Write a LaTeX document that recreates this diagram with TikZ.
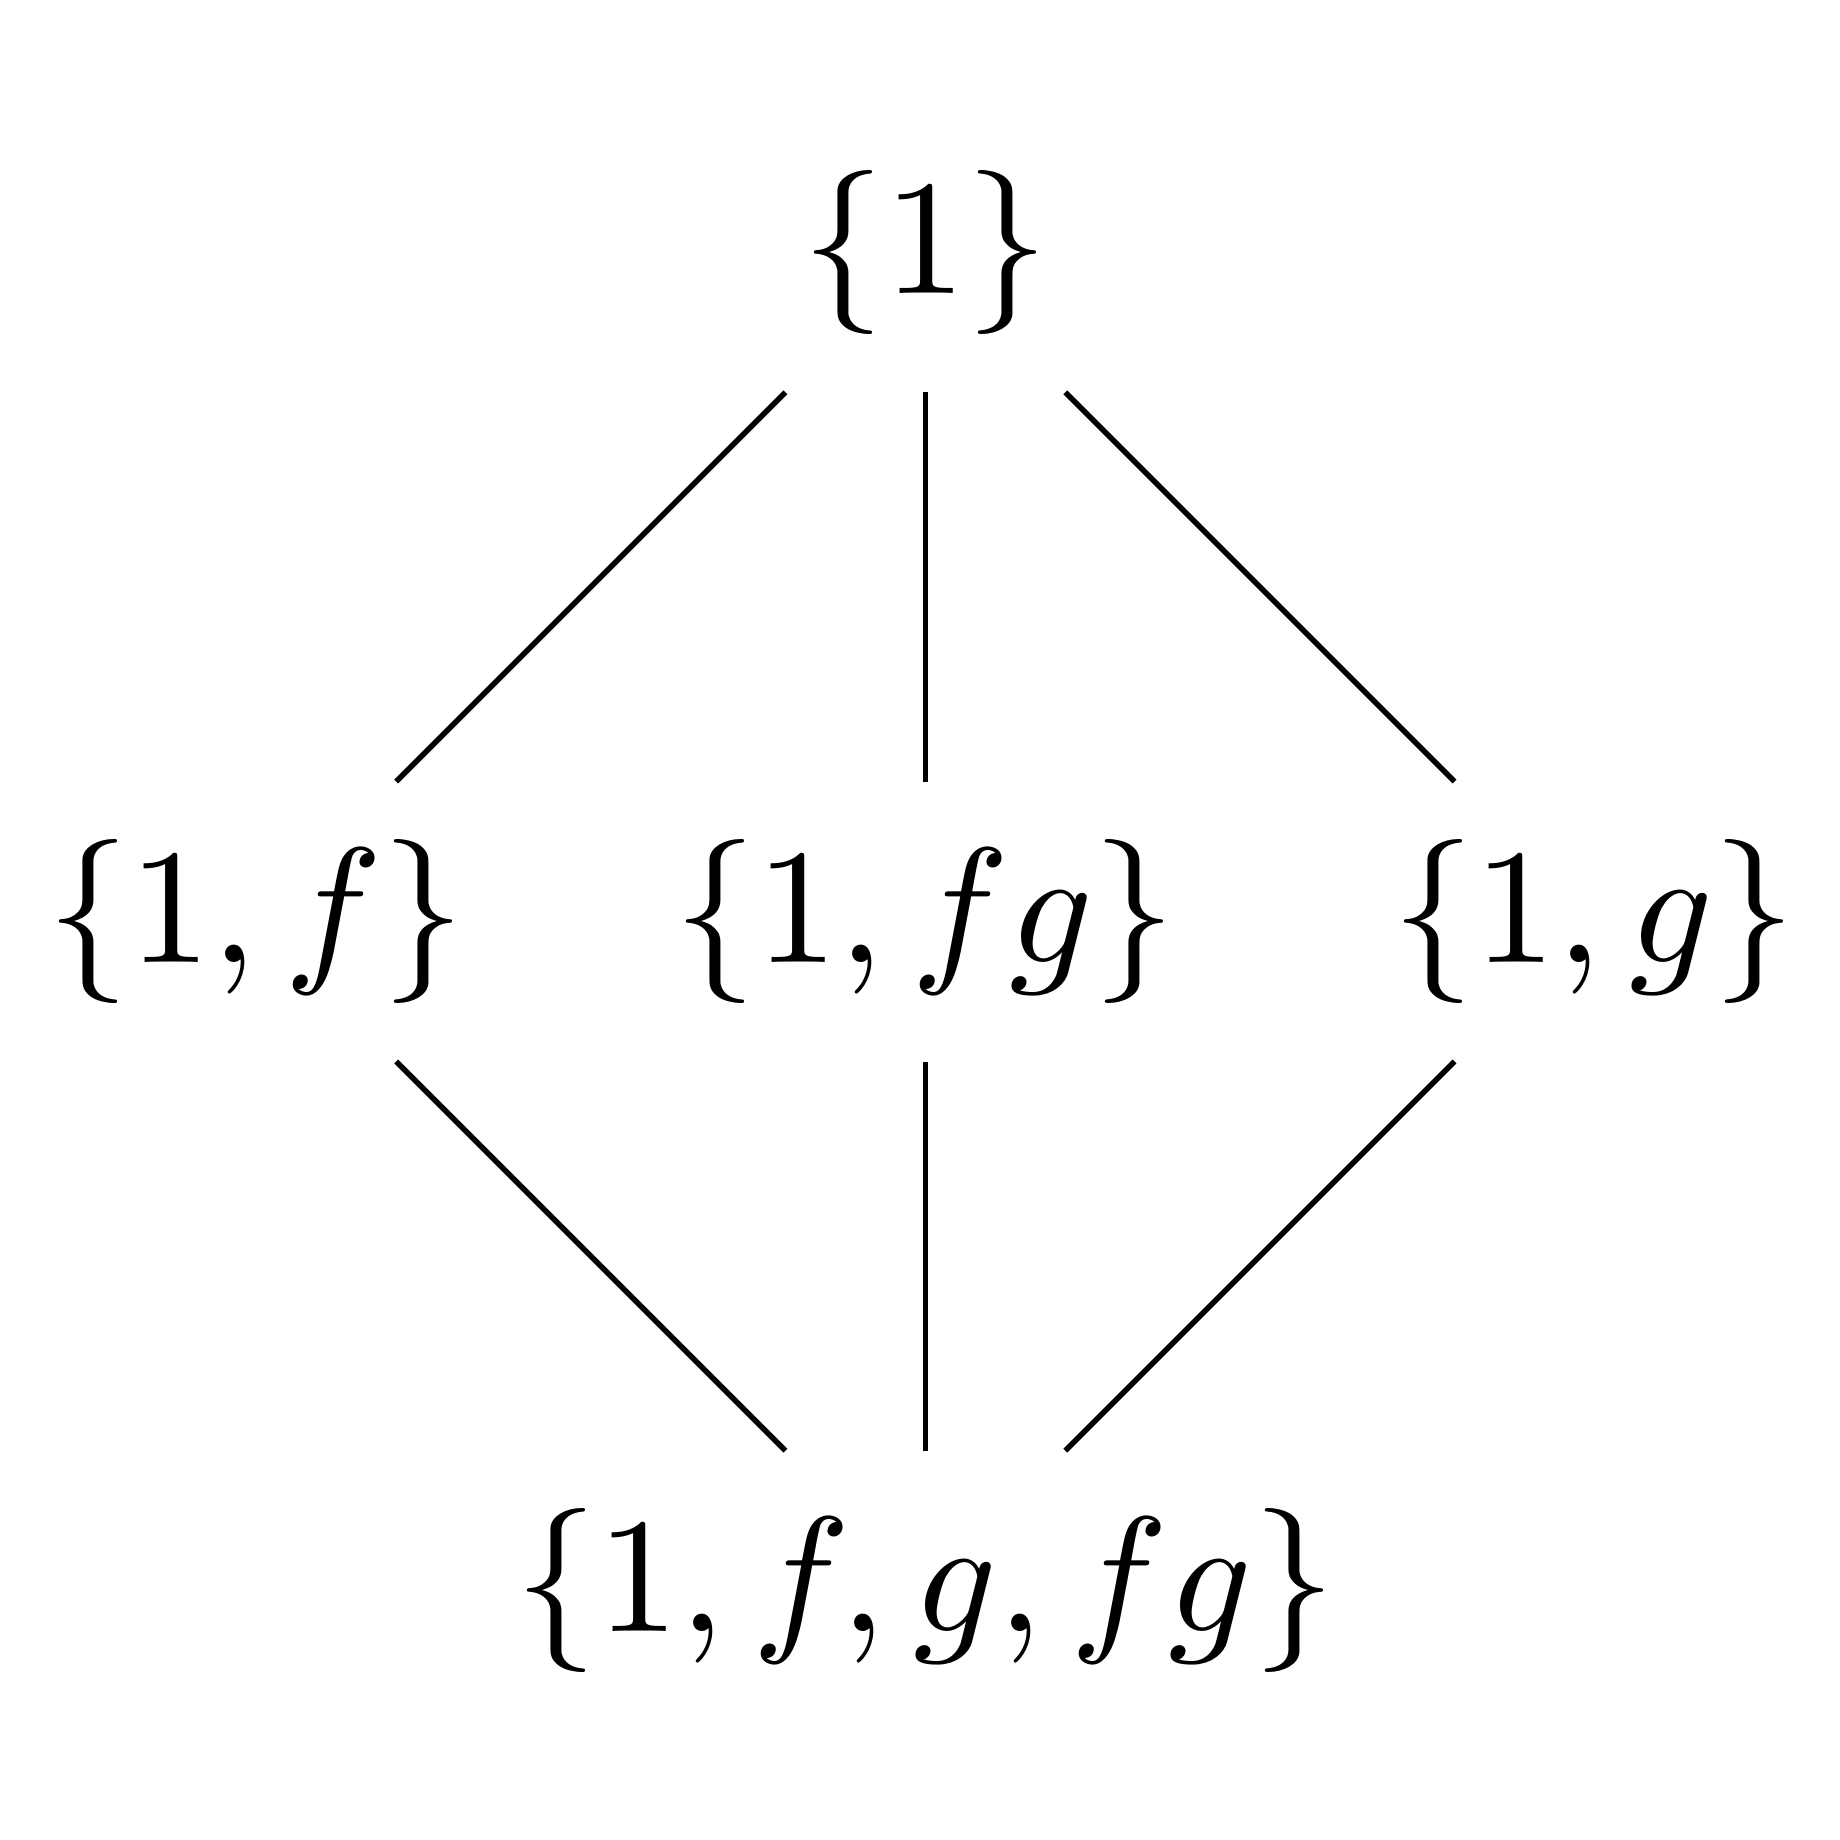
\documentclass[10pt,tikz,border=0pt]{standalone}
\usepackage{graphicx}
\begin{document}
\begin{tikzpicture}[
  every node/.style={inner sep=0pt},
  settext/.style={execute at begin node={\scalebox{1.2}\bgroup$}, execute at end node={$\egroup}},
  link/.style={line width=0.4pt},
  diag/.style={link, shorten <=14.48pt, shorten >=14.48pt},
  vert/.style={link, shorten <=10.24pt, shorten >=10.24pt}]
\useasboundingbox (-67.69pt,-67.19pt) rectangle (66.91pt,67.41pt);
\node (t) at (0pt,48.95pt) {\scalebox{1.2}{$\{1\}$}};
\node (l) at (-48.95pt,0pt) {\scalebox{1.2}{$\{1,f\}$}};
\node (m) at (0pt,0pt) {\scalebox{1.2}{$\{1,fg\}$}};
\node (r) at (48.95pt,0pt) {\scalebox{1.2}{$\{1,g\}$}};
\node (b) at (0pt,-48.95pt) {\scalebox{1.2}{$\{1,f,g,fg\}$}};
\draw[diag] (l.center) -- (t.center);
\draw[vert] (m.center) -- (t.center);
\draw[diag] (r.center) -- (t.center);
\draw[diag] (b.center) -- (l.center);
\draw[vert] (b.center) -- (m.center);
\draw[diag] (b.center) -- (r.center);
\end{tikzpicture}
\end{document}
